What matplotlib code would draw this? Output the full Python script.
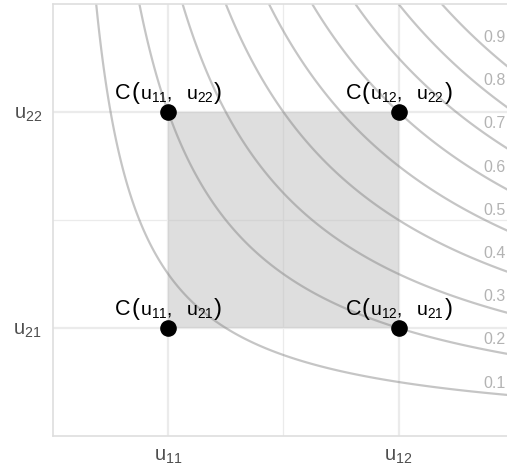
import numpy as np
import matplotlib
matplotlib.use("Agg")
import matplotlib.pyplot as plt
from matplotlib.offsetbox import TextArea, HPacker, AnnotationBbox

plt.rcParams['font.family'] = ['Liberation Sans', 'DejaVu Sans']
plt.rcParams['mathtext.fontset'] = 'custom'
plt.rcParams['mathtext.rm'] = 'Liberation Sans'
plt.rcParams['mathtext.it'] = 'Liberation Sans:italic'

# data
u1 = [0.2667, 0.80]          # u11, u12
u2 = [0.25, 0.75]            # u21, u22
x_ticklabels = [r'$\mathrm{u}_{11}$', r'$\mathrm{u}_{12}$']
y_ticklabels = [r'$\mathrm{u}_{21}$', r'$\mathrm{u}_{22}$']
levels = [0.1, 0.2, 0.3, 0.4, 0.5, 0.6, 0.7, 0.8, 0.9]
level_labels = ['0.1', '0.2', '0.3', '0.4', '0.5', '0.6', '0.7', '0.8', '0.9']

fig = plt.figure(figsize=(5.07, 4.71), dpi=100)
ax = fig.add_axes([53/507, 35/471, 454/507, 432/471])
ax.set_xlim(0, 1.051)
ax.set_ylim(0, 1)

# grid
ax.set_xticks(u1)
ax.set_yticks(u2)
ax.set_xticks([(u1[0] + u1[1]) / 2], minor=True)
ax.set_yticks([(u2[0] + u2[1]) / 2], minor=True)
ax.grid(True, which='major', color='#ebebeb', lw=1.6, zorder=0)
ax.grid(True, which='minor', color='#ebebeb', lw=0.9, zorder=0)
ax.set_axisbelow(True)
ax.set_xticklabels(x_ticklabels, fontsize=14.5, color='#4d4d4d')
ax.set_yticklabels(y_ticklabels, fontsize=14.5, color='#4d4d4d')
ax.tick_params(which='both', length=0, pad=8)
for s in ax.spines.values():
    s.set_color('#dedede')
    s.set_linewidth(1.2)
ax.spines['right'].set_visible(False)

# shaded rectangle
ax.fill_between([u1[0], u1[1]], u2[0], u2[1], color='#bebebe', alpha=0.5, lw=0, zorder=1)

# contour lines of C(u, v) = u v
uu = np.linspace(0.001, 1.1, 600)
vv = np.linspace(0.001, 1.0, 600)
U, V = np.meshgrid(uu, vv)
ax.contour(U, V, U * V, levels=levels, colors='#808080', alpha=0.45,
           linewidths=1.6, zorder=2)
for lv, lab in zip(levels, level_labels):
    ax.text(0.997, lv + 0.012, lab, fontsize=11.5, color='#b3b3b3',
            ha='left', va='baseline', zorder=3)

# corner points with C(.,.) labels, big brackets
for i, a in enumerate(u1):
    for j, b in enumerate(u2):
        ax.scatter([a], [b], s=120, color='black', zorder=4)
        parts = [TextArea(r'$\mathrm{C}$', textprops=dict(fontsize=15.5)),
                 TextArea('(', textprops=dict(fontsize=17)),
                 TextArea(r'$\mathrm{u}_{1%d},\ \ \mathrm{u}_{2%d}$' % (i + 1, j + 1),
                          textprops=dict(fontsize=14)),
                 TextArea(')', textprops=dict(fontsize=17))]
        box = HPacker(children=parts, align='baseline', pad=0, sep=0.3)
        ab = AnnotationBbox(box, (a, b), xybox=(0, 6), boxcoords='offset points',
                            box_alignment=(0.5, 0), frameon=False, pad=0, zorder=5)
        ax.add_artist(ab)

fig.savefig('out.png', dpi=100)
